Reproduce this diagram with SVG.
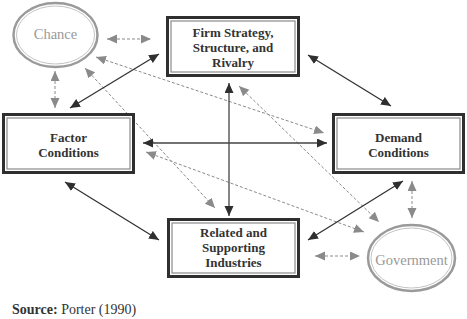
<svg xmlns="http://www.w3.org/2000/svg" width="467" height="319" viewBox="0 0 467 319">
<style>
.box{fill:#fff;stroke:#2f2f2f;stroke-width:3}
.inner{fill:none;stroke:#8a8a8a;stroke-width:1.2}
.lbl{font-family:"Liberation Serif","Times New Roman",Times,"DejaVu Serif",serif;font-weight:bold;font-size:13px;fill:#333;text-anchor:middle}
.ell{fill:#fff;stroke:#9a9a9a;stroke-width:2.5}
.ell2{fill:none;stroke:#c4c4c4;stroke-width:1}
.elbl{font-family:"Liberation Serif","Times New Roman",Times,"DejaVu Serif",serif;font-size:14.5px;fill:#999;text-anchor:middle}
.src{font-family:"Liberation Serif","Times New Roman",Times,"DejaVu Serif",serif;font-size:14px;fill:#333}
.solid{stroke:#333;stroke-width:1.3;fill:none;marker-start:url(#ab);marker-end:url(#ab)}
.dash{stroke:#8a8a8a;stroke-width:1;stroke-dasharray:3 2;fill:none;marker-start:url(#ag);marker-end:url(#ag)}
</style>
<defs>
<marker id="ab" markerUnits="userSpaceOnUse" markerWidth="11" markerHeight="10" refX="10" refY="4.5" orient="auto-start-reverse" viewBox="0 0 11 10">
<path d="M0,0 L10,4.5 L0,9 z" fill="#2f2f2f"/>
</marker>
<marker id="ag" markerUnits="userSpaceOnUse" markerWidth="11" markerHeight="10" refX="10" refY="4.5" orient="auto-start-reverse" viewBox="0 0 11 10">
<path d="M0,0 L10,4.5 L0,9 z" fill="#8a8a8a"/>
</marker>
</defs>
<rect width="467" height="319" fill="#fff"/>
<g id="connectors">
<line class="dash" x1="96" y1="57" x2="324" y2="133"/>
<line class="dash" x1="85" y1="68" x2="215" y2="208"/>
<line class="dash" x1="146" y1="152" x2="364" y2="232"/>
<line class="dash" x1="239" y1="86" x2="379" y2="222"/>
<line class="dash" x1="107" y1="39" x2="151" y2="39"/>
<line class="dash" x1="55" y1="71" x2="55" y2="108"/>
<line class="dash" x1="412" y1="181" x2="412" y2="218"/>
<line class="dash" x1="315" y1="256" x2="360" y2="256"/>
<line class="solid" x1="70" y1="108" x2="159" y2="54"/>
<line class="solid" x1="308" y1="55" x2="391" y2="106"/>
<line class="solid" x1="65" y1="182" x2="159" y2="240"/>
<line class="solid" x1="308" y1="240" x2="403" y2="181"/>
<line class="solid" x1="143" y1="143" x2="327" y2="143" style="stroke:#444"/>
<line class="solid" x1="229" y1="83" x2="229" y2="216" style="stroke:#444"/>
</g>
<g id="firm">
<rect class="box" x="167.5" y="17.5" width="131" height="58"/>
<rect class="inner" x="171" y="21" width="124" height="51"/>
<text class="lbl" x="233" y="37">Firm Strategy,</text>
<text class="lbl" x="233" y="52">Structure, and</text>
<text class="lbl" x="233" y="67">Rivalry</text>
</g>
<g id="factor">
<rect class="box" x="3.5" y="114.5" width="130" height="58"/>
<rect class="inner" x="7" y="118" width="123" height="51"/>
<text class="lbl" x="68.5" y="142">Factor</text>
<text class="lbl" x="68.5" y="157">Conditions</text>
</g>
<g id="demand">
<rect class="box" x="333.5" y="114.5" width="130" height="58"/>
<rect class="inner" x="337" y="118" width="123" height="51"/>
<text class="lbl" x="398.5" y="142">Demand</text>
<text class="lbl" x="398.5" y="157">Conditions</text>
</g>
<g id="related">
<rect class="box" x="168.5" y="219.5" width="130" height="57"/>
<rect class="inner" x="172" y="223" width="123" height="50"/>
<text class="lbl" x="233.5" y="237">Related and</text>
<text class="lbl" x="233.5" y="252">Supporting</text>
<text class="lbl" x="233.5" y="267">Industries</text>
</g>
<g id="chance">
<ellipse class="ell" cx="55.5" cy="35" rx="42" ry="32"/>
<ellipse class="ell2" cx="55.5" cy="35" rx="39" ry="29"/>
<text class="elbl" x="55.5" y="39">Chance</text>
</g>
<g id="government">
<ellipse class="ell" cx="411.5" cy="258" rx="43.5" ry="33"/>
<ellipse class="ell2" cx="411.5" cy="258" rx="40.5" ry="30"/>
<text class="elbl" x="411.5" y="265">Government</text>
</g>
<text class="src" x="12" y="314"><tspan font-weight="bold">Source:</tspan> Porter (1990)</text>
</svg>
